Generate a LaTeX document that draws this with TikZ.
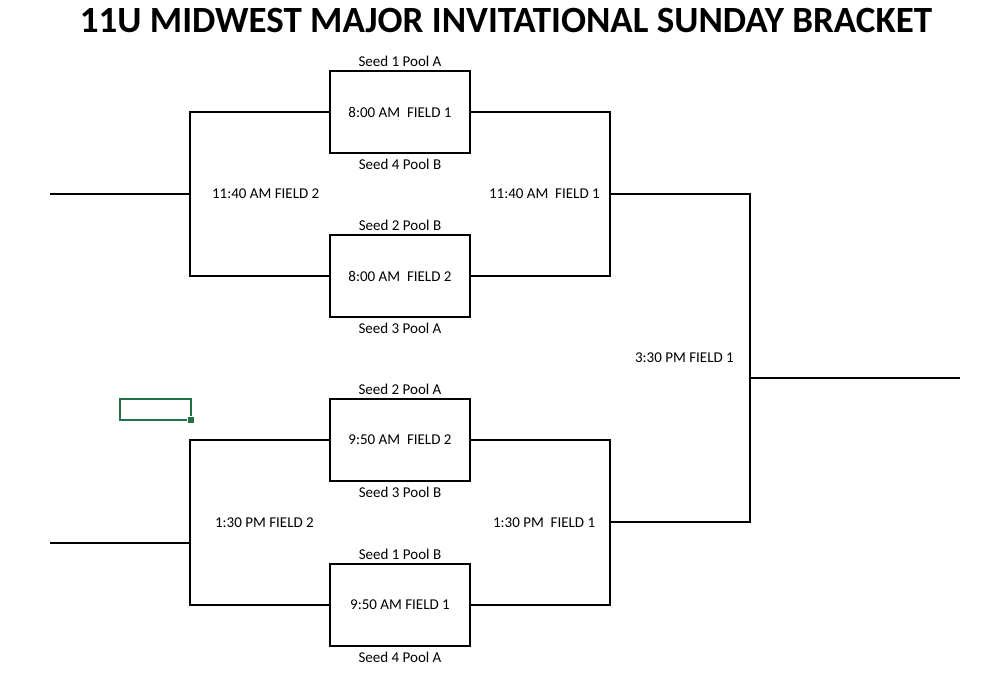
\documentclass[tikz,border=0pt]{standalone}
\usepackage{fontspec}
\setmainfont{Carlito}
\usetikzlibrary{calc}
\definecolor{cellgreen}{RGB}{33,115,70}

\begin{document}
\begin{tikzpicture}[x=1pt,y=-1pt,line width=2.2pt,
	game/.style={draw,minimum width=140pt,minimum height=82pt,inner sep=0pt,font=\fontsize{15}{17}\selectfont},
	seed/.style={inner sep=0pt,font=\fontsize{15}{17}\selectfont},
	slot/.style={seed,anchor=west}]
\useasboundingbox (0,0) rectangle (986,674);
% title
\node (T) at (506,21) {\fontsize{37}{40}\selectfont\bfseries 11U MIDWEST MAJOR INVITATIONAL SUNDAY BRACKET};
% first round games
\node[game] (G1) at (400,112) {8:00 AM\ \ FIELD 1};
\node[game] (G2) at (400,276) {8:00 AM\ \ FIELD 2};
\node[game] (G3) at (400,440) {9:50 AM\ \ FIELD 2};
\node[game] (G4) at (400,605) {9:50 AM FIELD 1};
\node[seed] (S1a) at (400,61) {Seed 1 Pool A};
\node[seed] (S1b) at (400,164) {Seed 4 Pool B};
\node[seed] (S2a) at (400,225) {Seed 2 Pool B};
\node[seed] (S2b) at (400,328) {Seed 3 Pool A};
\node[seed] (S3a) at (400,389) {Seed 2 Pool A};
\node[seed] (S3b) at (400,492) {Seed 3 Pool B};
\node[seed] (S4a) at (400,554) {Seed 1 Pool B};
\node[seed] (S4b) at (400,657) {Seed 4 Pool A};
% bracket joints
\coordinate (L1) at (190,194);
\coordinate (L2) at (190,543);
\coordinate (R1) at (610,194);
\coordinate (R2) at (610,522);
\coordinate (F) at (750,378);
\coordinate (E1) at (50,194);
\coordinate (E2) at (50,543);
\coordinate (W) at (960,378);
\draw (G1.west) -| (L1) |- (G2.west);
\draw (G3.west) -| (L2) |- (G4.west);
\draw (G1.east) -| (R1) |- (G2.east);
\draw (G3.east) -| (R2) |- (G4.east);
\draw (E1)--(L1);
\draw (E2)--(L2);
\draw (R1) -| (F) |- (R2);
\draw (F)--(W);
% later games
\node[slot] (M1) at (211,194) {11:40 AM FIELD 2};
\node[slot] (M2) at (488,194) {11:40 AM\ \ FIELD 1};
\node[slot] (M3) at (214,523) {1:30 PM FIELD 2};
\node[slot] (M4) at (492,523) {1:30 PM\ \ FIELD 1};
\node[slot] (M5) at (634,358) {3:30 PM FIELD 1};
% selected cell
\draw[cellgreen] (120,399) rectangle (191,420);
\draw[white,fill=cellgreen,line width=1pt] (187,416) rectangle (194,423);
\end{tikzpicture}
\end{document}
